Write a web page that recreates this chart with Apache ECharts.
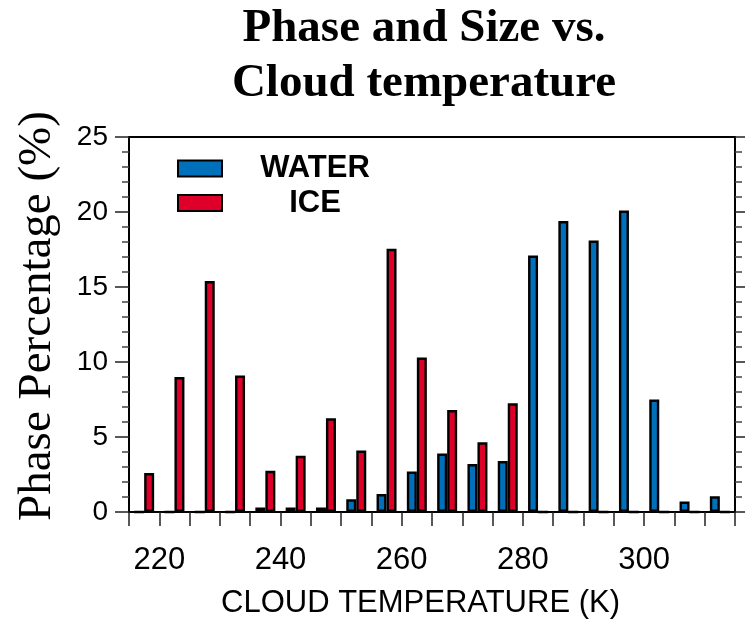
<!DOCTYPE html>
<html>
<head>
<meta charset="utf-8">
<script src="https://cdn.jsdelivr.net/npm/echarts@6/dist/echarts.min.js"></script>
<style>
  html, body { margin: 0; padding: 0; background: #fff; }
  #chart { width: 745px; height: 624px; }
</style>
</head>
<body>
<div id="chart"></div>
<script>
// Bin centres (K) of 5 K temperature bins
var binCenters = [217.5, 222.5, 227.5, 232.5, 237.5, 242.5, 247.5, 252.5, 257.5, 262.5,
                  267.5, 272.5, 277.5, 282.5, 287.5, 292.5, 297.5, 302.5, 307.5, 312.5];
// Phase percentage (%)
var waterPct = [0, 0, 0, 0, 0.3, 0.3, 0.3, 0.85, 1.2, 2.7,
                3.9, 3.2, 3.4, 17.1, 19.4, 18.1, 20.1, 7.5, 0.7, 1.05];
var icePct   = [2.6, 9.0, 15.4, 9.1, 2.75, 3.75, 6.25, 4.1, 17.55, 10.3,
                6.8, 4.65, 7.25, 0, 0, 0, 0, 0, 0, 0];
var xLabelValues = [220, 240, 260, 280, 300];
var seriesNames = ['WATER', 'ICE'];
var seriesColors = ['#0070BA', '#DE0029'];

var chart = echarts.init(document.getElementById('chart'), null, { renderer: 'canvas' });

function pairs(vals) {
  return binCenters.map(function (c, i) { return [c, vals[i]]; });
}

var sans = 'Liberation Sans, Arial, Helvetica, sans-serif';
var serif = 'Liberation Serif, Times New Roman, serif';

var option = {
  backgroundColor: '#ffffff',
  animation: false,
  title: {
    text: 'Phase and Size vs.\nCloud temperature',
    left: 424,
    top: 1,
    textAlign: 'center',
    padding: 0,
    textStyle: {
      fontFamily: serif,
      fontWeight: 'bold',
      fontSize: 47,
      lineHeight: 55,
      color: '#000'
    }
  },
  legend: {
    orient: 'vertical',
    left: 177,
    top: 153,
    padding: 0,
    itemGap: 3.5,
    itemWidth: 44,
    itemHeight: 16,
    icon: 'rect',
    itemStyle: { borderColor: '#000', borderWidth: 2 },
    data: seriesNames,
    formatter: function (name) { return '{a|' + name + '}'; },
    textStyle: {
      rich: {
        a: {
          width: 176,
          align: 'center',
          fontFamily: sans,
          fontWeight: 'bold',
          fontSize: 31,
          lineHeight: 36,
          color: '#000'
        }
      }
    }
  },
  grid: { left: 129, top: 137, width: 606, height: 378, containLabel: false },
  xAxis: [
    {
      type: 'value',
      position: 'bottom',
      min: 215,
      max: 315,
      interval: 5,
      name: 'CLOUD TEMPERATURE (K)',
      nameLocation: 'middle',
      nameGap: 76,
      nameTextStyle: {
        fontFamily: sans,
        fontSize: 31,
        color: '#000',
        padding: [0, 23, 0, 0]
      },
      axisLine: { show: true, onZero: false, lineStyle: { color: '#000', width: 2 } },
      axisTick: { show: true, inside: false, length: 14, lineStyle: { color: '#222', width: 1.5 } },
      axisLabel: {
        margin: 33,
        fontFamily: sans,
        fontSize: 31,
        color: '#000',
        formatter: function (v) {
          return xLabelValues.indexOf(v) >= 0 ? String(v) : '';
        }
      },
      splitLine: { show: false }
    },
    {
      type: 'value',
      position: 'top',
      min: 215,
      max: 315,
      interval: 5,
      axisLine: { show: true, onZero: false, lineStyle: { color: '#000', width: 2 } },
      axisTick: { show: false },
      axisLabel: { show: false },
      splitLine: { show: false }
    }
  ],
  yAxis: [
    {
      type: 'value',
      position: 'left',
      min: 0,
      max: 25,
      interval: 5,
      name: 'Phase Percentage (%)',
      nameLocation: 'middle',
      nameGap: 68,
      nameTextStyle: {
        fontFamily: serif,
        fontSize: 47,
        color: '#000',
        padding: [0, 0, 0, 17]
      },
      axisLine: { show: true, onZero: false, lineStyle: { color: '#000', width: 2 } },
      axisTick: { show: true, inside: false, length: 14, lineStyle: { color: '#222', width: 1.5 } },
      minorTick: { show: true, splitNumber: 5, length: 7, lineStyle: { color: '#444', width: 1.5 } },
      axisLabel: { margin: 21, fontFamily: sans, fontSize: 28, color: '#000' },
      splitLine: { show: false }
    },
    {
      type: 'value',
      position: 'right',
      min: 0,
      max: 25,
      interval: 5,
      axisLine: { show: true, onZero: false, lineStyle: { color: '#000', width: 2 } },
      axisTick: { show: true, inside: false, length: 14, lineStyle: { color: '#222', width: 1.5 } },
      minorTick: { show: true, splitNumber: 5, length: 7, lineStyle: { color: '#444', width: 1.5 } },
      axisLabel: { show: false },
      splitLine: { show: false }
    }
  ],
  series: [
    {
      name: seriesNames[0],
      type: 'bar',
      xAxisIndex: 0,
      yAxisIndex: 0,
      barWidth: 10,
      barGap: '0%',
      data: pairs(waterPct),
      itemStyle: { color: seriesColors[0], borderColor: '#000', borderWidth: 2.4 }
    },
    {
      name: seriesNames[1],
      type: 'bar',
      xAxisIndex: 0,
      yAxisIndex: 0,
      barWidth: 10,
      barGap: '0%',
      data: pairs(icePct),
      itemStyle: { color: seriesColors[1], borderColor: '#000', borderWidth: 2.4 }
    }
  ]
};

chart.setOption(option);
</script>
</body>
</html>
